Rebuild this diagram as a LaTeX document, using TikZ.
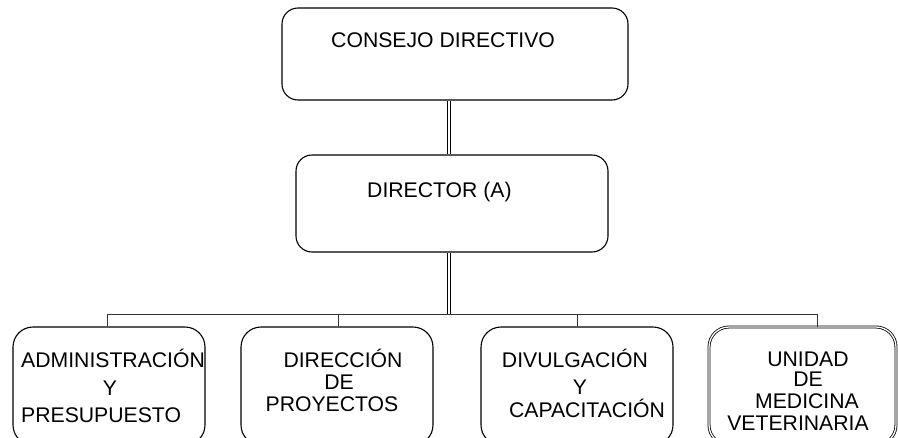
\documentclass[tikz,border=0pt]{standalone}
\usepackage{fontspec}
\setmainfont{Liberation Sans}
\begin{document}
\begin{tikzpicture}[x=1pt,y=-1pt,
  box/.style={draw=black,line width=1.1pt,rounded corners=16pt,minimum width=#1,inner sep=0pt},
  lbl/.style={inner sep=0pt,font=\fontsize{21.2}{24}\selectfont},
  dbl/.style={draw=black,line width=0.7pt,double=white,double distance=1.8pt},
  busline/.style={draw=black!80,line width=0.9pt}]
\useasboundingbox (0,0) rectangle (898,437);
\clip (0,0) rectangle (898,437);
% boxes
\node[box=346pt,minimum height=92pt] (cd) at (455,54) {};
\node[box=312pt,minimum height=97pt] (dir) at (452,203.5) {};
\node[box=192pt,minimum height=118pt,rounded corners=20pt] (b1) at (109,386) {};
\node[box=192pt,minimum height=118pt,rounded corners=20pt] (b2) at (337,386) {};
\node[box=192pt,minimum height=118pt,rounded corners=20pt] (b3) at (577,386) {};
\node[box=187pt,minimum height=118pt,rounded corners=20pt,line width=0.8pt,double=white,double distance=1.3pt] (b4) at (802.5,386) {};
% texts
\node[lbl,anchor=base west] (tcd) at (331,47) {CONSEJO DIRECTIVO};
\node[lbl,anchor=base west] (tdir) at (367,197) {DIRECTOR (A)};
\node[lbl,anchor=base west] (t1a) at (21,367) {ADMINISTRACIÓN};
\node[lbl,anchor=base] (t1b) at (110,395) {Y};
\node[lbl,anchor=base west] (t1c) at (21,422) {PRESUPUESTO};
\node[lbl,anchor=base] (t2a) at (343,367) {DIRECCIÓN};
\node[lbl,anchor=base] (t2b) at (339,389) {DE};
\node[lbl,anchor=base] (t2c) at (332,411) {PROYECTOS};
\node[lbl,anchor=base] (t3a) at (575,367) {DIVULGACIÓN};
\node[lbl,anchor=base] (t3b) at (580,394) {Y};
\node[lbl,anchor=base] (t3c) at (587,417) {CAPACITACIÓN};
\node[lbl,anchor=base] (t4a) at (808,366) {UNIDAD};
\node[lbl,anchor=base] (t4b) at (808,386) {DE};
\node[lbl,anchor=base] (t4c) at (807,408) {MEDICINA};
\node[lbl,anchor=base] (t4d) at (798,430) {VETERINARIA};
% connectors
\coordinate (xl) at (449,0);
\coordinate (bus) at (449,315);
\draw[dbl] (cd.south -| xl) -- (dir.north -| xl);
\draw[dbl] (dir.south -| xl) -- (bus);
\draw[busline] ([xshift=-2pt]b1.north) -- ++(0,-12) -| ([xshift=14.5pt]b4.north);
\draw[busline] ([xshift=1pt]b2.north) -- ++(0,-12);
\draw[busline] (b3.north) -- ++(0,-12);
\end{tikzpicture}
\end{document}
